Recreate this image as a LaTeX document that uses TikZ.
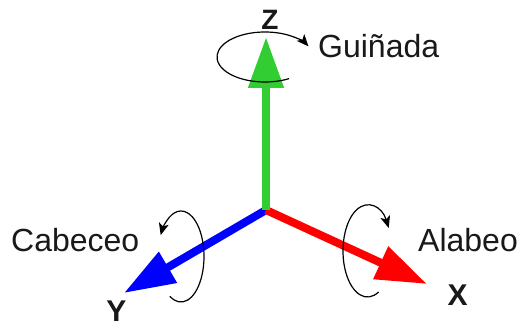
\documentclass[tikz,border=0pt]{standalone}
\usepackage{fontspec}
\setmainfont{Liberation Sans}
\usetikzlibrary{arrows.meta}
\begin{document}
\begin{tikzpicture}[x=1pt,y=1pt,
  axis/.style={line width=8pt, -{Triangle[length=51pt,width=34pt]}},
  rot/.style={line width=1.2pt, black, -{Stealth[length=12pt,width=10pt,inset=3pt]}},
  lbl/.style={font=\fontsize{32}{32}\selectfont, text=black!90, inner sep=0pt, anchor=base west},
  axl/.style={font=\fontsize{30}{30}\selectfont\bfseries, text=black!90, inner sep=0pt, anchor=base}]
\useasboundingbox (0,0) rectangle (522,326);
\definecolor{zgreen}{RGB}{50,205,50}
\coordinate (O) at (266,116);
\coordinate (Zt) at (266,289);
\coordinate (Yt) at (124,33);
\coordinate (Xt) at (427,42);
% axes
\draw[axis, blue] (O) -- (Yt);
\draw[axis, red] (O) -- (Xt);
\draw[axis, zgreen] (O) -- (Zt);
% rotation arcs
\draw[rot] (265,269) ++(-60:48 and 25) arc[start angle=-60, end angle=-335, x radius=48, y radius=25];
\draw[rot] (181,69.5) ++(-119:23 and 45.5) arc[start angle=-119, end angle=152, x radius=23, y radius=45.5];
\draw[rot] (367.5,75) ++(-63:24.5 and 46) arc[start angle=-63, end angle=-330, x radius=24.5, y radius=46];
% labels
\node[axl, font=\fontsize{28}{28}\selectfont\bfseries] (zl) at (270,296.5) {Z};
\node[axl] (yl) at (116.5,4.5) {Y};
\node[axl] (xl) at (457.5,20) {X};
\node[lbl] (gui) at (318,268.7) {Guiñada};
\node[lbl] (cab) at (11,74) {Cabeceo};
\node[lbl] (ala) at (418,74.3) {Alabeo};
\end{tikzpicture}
\end{document}
